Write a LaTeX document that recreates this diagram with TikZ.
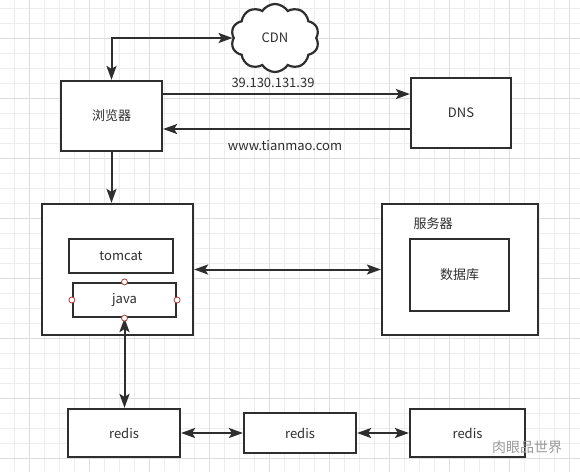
\documentclass[tikz,border=0pt]{standalone}
\usepackage{fontspec}
\setmainfont{Noto Sans CJK SC}
\usetikzlibrary{arrows.meta,shapes.symbols}
\definecolor{ink}{HTML}{2E2E2E}
\definecolor{portred}{HTML}{A8403A}
\definecolor{gridminor}{HTML}{EDEDED}
\definecolor{gridmajor}{HTML}{DEDEDE}

\begin{document}
\begin{tikzpicture}[x=1pt, y=-1pt, >={Stealth[length=14pt,width=10pt,inset=3pt]},
    box/.style={draw=ink, line width=2.2pt, fill=white, inner sep=0pt,
                font=\fontsize{13}{15}\selectfont, text=ink},
    link/.style={draw=ink, line width=2pt},
    port/.style={circle, draw=portred, fill=white, line width=0.8pt,
                 minimum size=6pt, inner sep=0pt},
    lbl/.style={font=\fontsize{13}{15}\selectfont, text=ink, inner sep=0pt}]

\useasboundingbox (0,0) rectangle (580,472);

% ============================
% Background grid
% ============================
\fill[white] (0,0) rectangle (580,472);
\foreach \gx in {14.5,29.5,...,580} \draw[gridminor, line width=0.8pt] (\gx,0) -- (\gx,472);
\foreach \gy in {8.3,23.3,...,472} \draw[gridminor, line width=0.8pt] (0,\gy) -- (580,\gy);
\foreach \gx in {29.5,89.5,...,580} \draw[gridmajor, line width=0.8pt] (\gx,0) -- (\gx,472);
\foreach \gy in {38.3,98.3,...,472} \draw[gridmajor, line width=0.8pt] (0,\gy) -- (580,\gy);

% ============================
% Top row: browser, CDN, DNS
% ============================
\node[box, minimum width=101pt, minimum height=70pt] (browser) at (111.5,116) {浏览器};
\node[box, cloud, cloud puffs=10, cloud puff arc=115, aspect=1.25,
      minimum width=88pt, minimum height=68pt] (cdn) at (275,38) {CDN};
\node[box, minimum width=100pt, minimum height=70pt] (dns) at (461,113) {DNS};

% ============================
% Middle row: app server, database server
% ============================
\node[box, minimum width=151pt, minimum height=131pt] (app) at (117.5,269.5) {};
\node[box, minimum width=104pt, minimum height=34pt] (tomcat) at (121,256) {tomcat};
\node[box, minimum width=103pt, minimum height=34pt] (java) at (124.5,300) {java};

\node[box, minimum width=156pt, minimum height=131pt] (server) at (460,269.5) {};
\node[lbl] (serverlbl) at (433,224) {服务器};
\node[box, minimum width=99pt, minimum height=72pt] (db) at (459.5,275) {数据库};

% ============================
% Bottom row: redis
% ============================
\node[box, minimum width=112pt, minimum height=48pt] (redisA) at (124,433) {redis};
\node[box, minimum width=112pt, minimum height=40pt] (redisB) at (300,433) {redis};
\node[box, minimum width=115pt, minimum height=48pt] (redisC) at (467.5,433) {redis};

% ============================
% Connectors
% ============================
\draw[link, <->] (browser.north) |- (cdn.west);

\draw[link, ->] (browser.east |- 0,94) -- (dns.west |- 0,94);
\node[lbl] (ip) at (273,83) {39.130.131.39};

\draw[link, ->] (dns.west |- 0,129) -- (browser.east |- 0,129);
\node[lbl] (domain) at (285,146) {www.tianmao.com};

\draw[link, ->] (browser.south) -- (app.north -| browser.south);

\draw[link, <->] (app.east) -- (server.west);

\draw[link, <->] (java.south) -- (redisA.north -| java.south);

\draw[link, <->] (redisA.east) -- (redisB.west);
\draw[link, <->] (redisB.east) -- (redisC.west);

% ports on java
\foreach \side in {north,south,east,west}
  \node[port] at (java.\side) {};

% watermark
\node[lbl, text=gray!80, font=\fontsize{14}{16}\selectfont] (mark) at (527,447) {肉眼品世界};

\end{tikzpicture}
\end{document}
